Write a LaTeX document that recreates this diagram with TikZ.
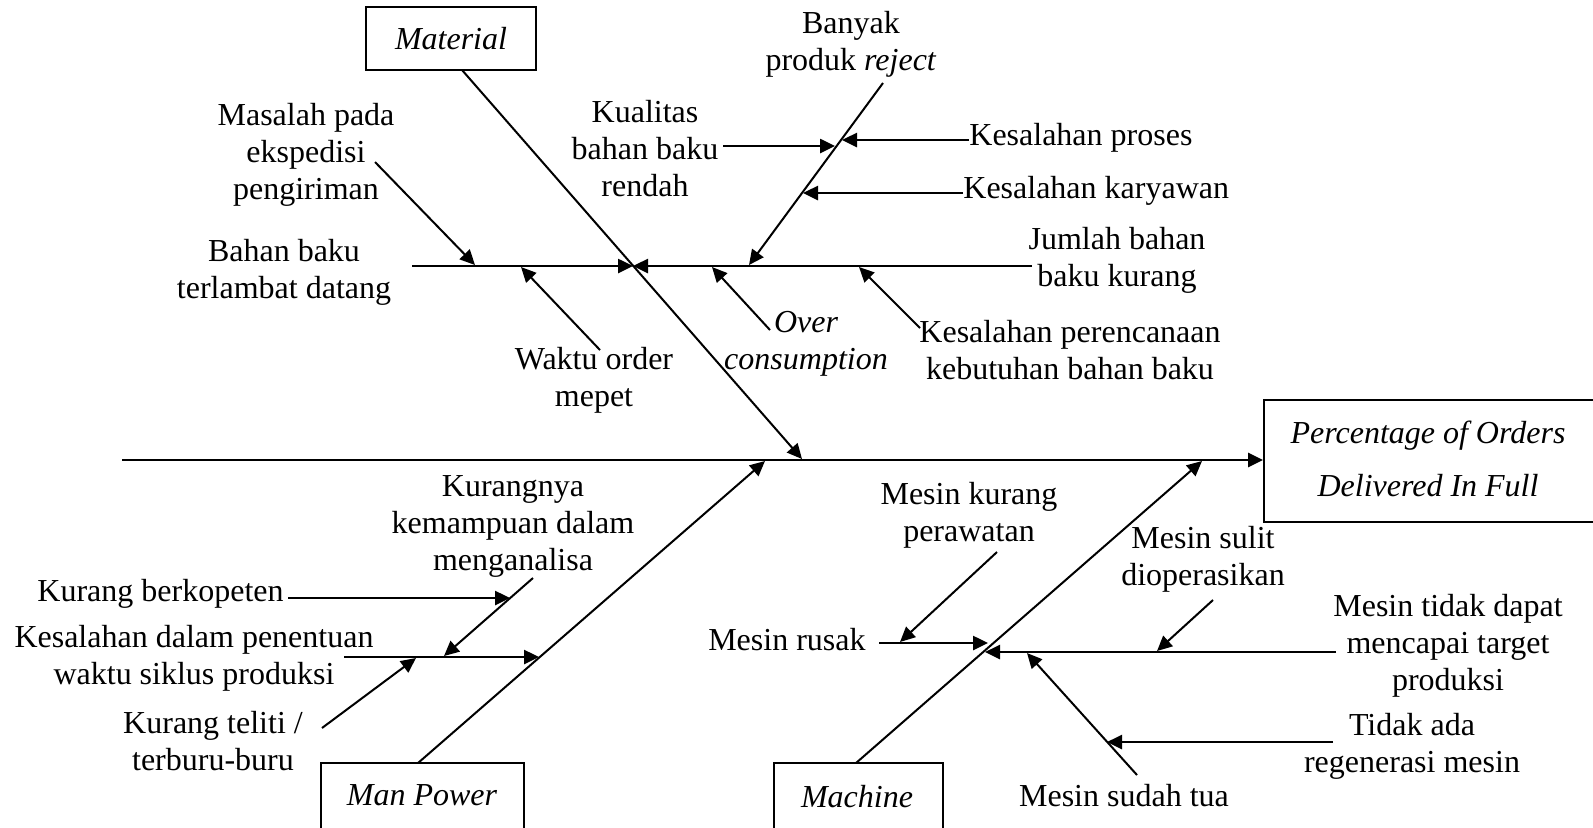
\documentclass[tikz,border=0pt]{standalone}
\usepackage{fontspec}
\setmainfont{Liberation Serif}
\usetikzlibrary{arrows.meta}
\begin{document}
\begin{tikzpicture}[x=0.5pt,y=-0.5pt,
  lbl/.style={inner sep=0pt, align=center, font=\fontsize{16}{18.5}\selectfont},
  catbox/.style={draw, line width=1pt, inner sep=0pt, font=\fontsize{16}{18.5}\selectfont\itshape},
  tip/.style={-{Triangle[length=7.5pt,width=7pt]}},
  spine/.style={tip, line width=1.4pt},
  bone/.style={tip, line width=1pt},
  rib/.style={tip, line width=1.3pt},
]
\useasboundingbox (0,0) rectangle (1593,827);

% ---------- category boxes and effect ----------
\node[catbox, minimum width=85pt, minimum height=31.5pt] (material) at (451,38.5) {Material};
\node[catbox, minimum width=101.5pt, minimum height=34.5pt] (manpower) at (422.5,797.5) {};
\node[lbl, font=\fontsize{16}{18.5}\selectfont\itshape] (manpowerT) at (422,795) {Man Power};
\node[catbox, minimum width=84.5pt, minimum height=34.5pt] (machine) at (858.5,797.5) {};
\node[lbl, font=\fontsize{16}{18.5}\selectfont\itshape] (machineT) at (857,797) {Machine};
\node[catbox, minimum width=165pt, minimum height=61pt] (effect) at (1429,460.5) {};
\node[lbl, font=\fontsize{16}{26.5}\selectfont\itshape] (effectT) at (1428,459) {Percentage of Orders\\Delivered In Full};

% ---------- main spine ----------
\coordinate (tail) at (122,460);
\draw[spine] (tail) -- (effect.west |- tail);

% ---------- Material ----------
\coordinate (matTop) at (462,70);
\coordinate (matEnd) at (802,459);
\draw[bone] (matTop) -- (matEnd);

\coordinate (mJ) at (633,266);
\coordinate (mL) at (412,266);
\coordinate (mR) at (1032,266);
\draw[rib] (mL) -- (mJ);
\draw[rib] (mR) -- (mJ);

\node[lbl] (bahanT) at (284,272) {Bahan baku\\terlambat datang};
\node[lbl] (masalahT) at (306,155) {Masalah pada\\ekspedisi\\pengiriman};
\coordinate (masS) at (375,162);
\coordinate (masE) at (475,265);
\draw[bone] (masS) -- (masE);

\node[lbl] (waktuT) at (594,380) {Waktu order\\mepet};
\coordinate (wakS) at (600,350);
\coordinate (wakE) at (521,267);
\draw[bone] (wakS) -- (wakE);

\node[lbl, font=\fontsize{16}{18.5}\selectfont\itshape] (overT) at (806,344) {Over\\consumption};
\coordinate (ovS) at (770,330);
\coordinate (ovE) at (712,267);
\draw[bone] (ovS) -- (ovE);

\node[lbl] (rejectT) at (851,44) {Banyak\\produk \textit{reject}};
\coordinate (rejS) at (883,83);
\coordinate (rejE) at (749,265);
\draw[bone] (rejS) -- (rejE);

\node[lbl] (kualitasT) at (645,149) {Kualitas\\bahan baku\\rendah};
\coordinate (kuaS) at (723,146);
\coordinate (kuaE) at (835,146);
\draw[rib] (kuaS) -- (kuaE);

\node[lbl, anchor=west] (prosesT) at (969,138) {Kesalahan proses};
\coordinate (proE) at (842,140);
\draw[rib] (prosesT.west |- proE) -- (proE);

\node[lbl, anchor=west] (karyawanT) at (963,191) {Kesalahan karyawan};
\coordinate (karE) at (803,193);
\draw[rib] (karyawanT.west |- karE) -- (karE);

\node[lbl] (jumlahT) at (1117,260) {Jumlah bahan\\baku kurang};

\node[lbl] (rencanaT) at (1070,350) {Kesalahan perencanaan\\kebutuhan bahan baku};
\coordinate (renS) at (920,328);
\coordinate (renE) at (859,267);
\draw[bone] (renS) -- (renE);

% ---------- Man Power ----------
\coordinate (mpTop) at (418,763);
\coordinate (mpEnd) at (765,461);
\draw[bone] (mpTop) -- (mpEnd);

\coordinate (pL) at (344,657);
\coordinate (pJ) at (539,657);
\draw[rib] (pL) -- (pJ);

\node[lbl] (kurangnyaT) at (513,526) {Kurangnya\\kemampuan dalam\\menganalisa};
\coordinate (kgS) at (533,578);
\coordinate (kgE) at (444,656);
\draw[bone] (kgS) -- (kgE);

\node[lbl, anchor=east] (kopetenT) at (284,594) {Kurang berkopeten};
\coordinate (kpE) at (510,598);
\draw[rib] (kopetenT.east |- kpE) ++(4,0) -- (kpE);

\node[lbl] (siklusT) at (194,658) {Kesalahan dalam penentuan\\waktu siklus produksi};

\node[lbl] (telitiT) at (213,741) {Kurang teliti /\\terburu-buru};
\coordinate (ktS) at (322,728);
\coordinate (ktE) at (416,658);
\draw[bone] (ktS) -- (ktE);

% ---------- Machine ----------
\coordinate (mcTop) at (856,763);
\coordinate (mcEnd) at (1202,461);
\draw[bone] (mcTop) -- (mcEnd);

\node[lbl, anchor=east] (rusakT) at (866,640) {Mesin rusak};
\coordinate (rsS) at (879,643);
\coordinate (rsE) at (988,643);
\draw[rib] (rsS) -- (rsE);

\coordinate (cR) at (1336,652);
\coordinate (cJ) at (985,652);
\draw[rib] (cR) -- (cJ);

\node[lbl] (perawatanT) at (969,515) {Mesin kurang\\perawatan};
\coordinate (prS) at (997,552);
\coordinate (prE) at (900,642);
\draw[bone] (prS) -- (prE);

\node[lbl] (sulitT) at (1203,559) {Mesin sulit\\dioperasikan};
\coordinate (slS) at (1213,600);
\coordinate (slE) at (1157,651);
\draw[bone] (slS) -- (slE);

\node[lbl] (targetT) at (1448,646) {Mesin tidak dapat\\mencapai target\\produksi};

\node[lbl] (tuaT) at (1124,796) {Mesin sudah tua};
\coordinate (tuS) at (1137,775);
\coordinate (tuE) at (1027,653);
\draw[bone] (tuS) -- (tuE);

\node[lbl] (regenT) at (1412,746) {Tidak ada\\regenerasi mesin};
\coordinate (rgS) at (1333,742);
\coordinate (rgE) at (1107,742);
\draw[rib] (rgS) -- (rgE);

\end{tikzpicture}
\end{document}
